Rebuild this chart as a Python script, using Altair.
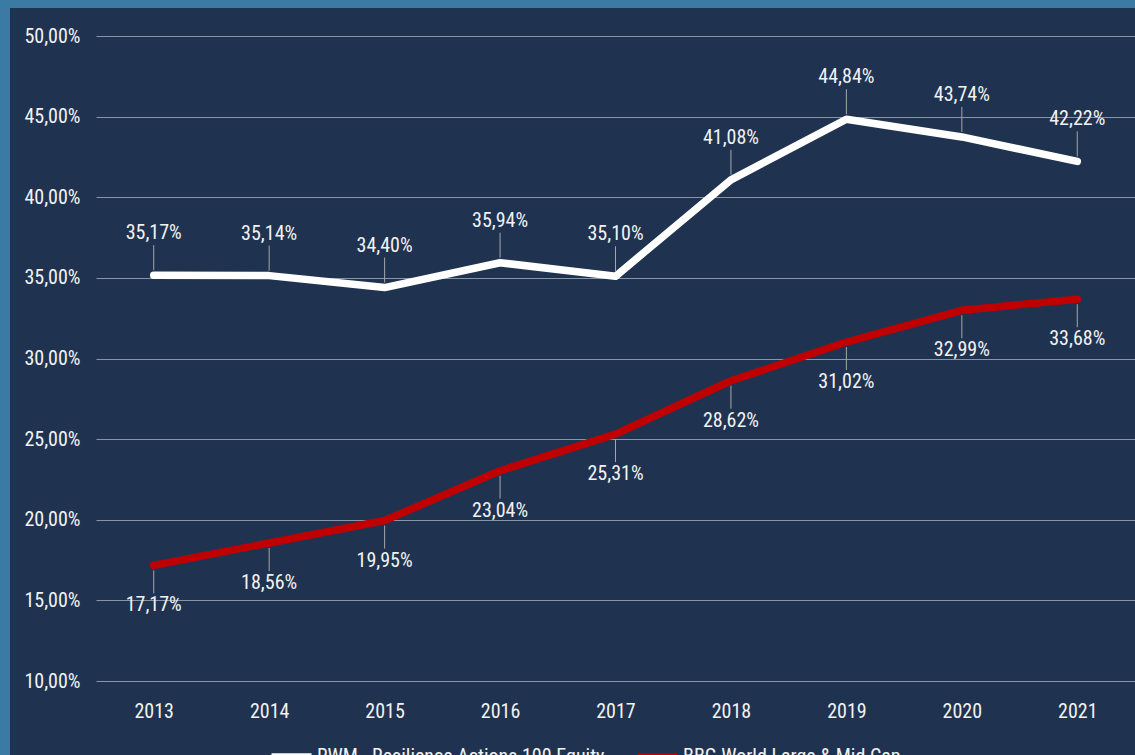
import altair as alt
import pandas as pd

years = ["2013", "2014", "2015", "2016", "2017", "2018", "2019", "2020", "2021"]
rwm = [35.17, 35.14, 34.40, 35.94, 35.10, 41.08, 44.84, 43.74, 42.22]
bbg = [17.17, 18.56, 19.95, 23.04, 25.31, 28.62, 31.02, 32.99, 33.68]
series_names = ["RWM - Resilience Actions 100 Equity", "BBG World Large & Mid Cap"]
y_ticks = [10, 15, 20, 25, 30, 35, 40, 45, 50]

rows = []
for y, v in zip(years, rwm):
    rows.append({"year": y, "value": v, "series": series_names[0]})
for y, v in zip(years, bbg):
    rows.append({"year": y, "value": v, "series": series_names[1]})
df = pd.DataFrame(rows)

FONT = "Liberation Sans Narrow, Roboto Condensed, Noto Sans, sans-serif"
BG = "#1f3350"
BORDER = "#3a7aa3"
FS = 20

x_enc = alt.X("year:N", scale=alt.Scale(type="point", padding=0.5), title=None,
              axis=alt.Axis(labelAngle=0, labelFontSize=FS, labelColor="#f2f2f2", labelFont=FONT,
                            ticks=False, domain=False, labelPadding=20))
y_scale = alt.Scale(domain=[10, 50], nice=False, zero=False)
y_enc = alt.Y("value:Q", scale=y_scale, title=None,
              axis=alt.Axis(values=y_ticks, labelExpr="replace(format(datum.value, '.2f'), '.', ',') + '%'",
                            labelFontSize=FS, labelColor="#f2f2f2", labelFont=FONT, ticks=False,
                            domain=False, labelPadding=16, grid=True, gridColor="#8a94a6",
                            gridWidth=1))

base = alt.Chart(df)

lines = base.mark_line(strokeWidth=7.5, strokeCap="round", strokeJoin="round").encode(
    x=x_enc, y=y_enc,
    color=alt.Color("series:N", scale=alt.Scale(domain=series_names, range=["#ffffff", "#c00000"]),
                    legend=alt.Legend(title=None, orient="none", legendX=172, legendY=697,
                                      direction="horizontal", symbolType="stroke", symbolSize=1600,
                                      symbolStrokeWidth=7, labelFontSize=FS, labelColor="#f2f2f2",
                                      labelFont=FONT, labelLimit=500, columnPadding=18,
                                      labelOffset=2)),
)

lbl_expr = "replace(format(datum.value, '.2f'), '.', ',') + '%'"

top = base.transform_filter(alt.datum.series == series_names[0]).transform_calculate(lbl=lbl_expr)
bot = base.transform_filter(alt.datum.series == series_names[1]).transform_calculate(lbl=lbl_expr)

top_leader = top.mark_rule(color="#a6a6a6", strokeWidth=1, yOffset=-5, y2Offset=-30).encode(
    x="year:N", y=alt.Y("value:Q", scale=y_scale), y2="value:Q")
bot_leader = bot.mark_rule(color="#a6a6a6", strokeWidth=1, yOffset=5, y2Offset=28).encode(
    x="year:N", y=alt.Y("value:Q", scale=y_scale), y2="value:Q")

top_text = top.mark_text(dy=-42, fontSize=FS, font=FONT, color="#f2f2f2").encode(
    x="year:N", y=alt.Y("value:Q", scale=y_scale), text="lbl:N")
bot_text = bot.mark_text(dy=40, fontSize=FS, font=FONT, color="#f2f2f2").encode(
    x="year:N", y=alt.Y("value:Q", scale=y_scale), text="lbl:N")

# decorative border strips
strip_df = pd.DataFrame({"k": [0]})
left_strip = alt.Chart(strip_df).mark_rect(color=BORDER).encode(
    x=alt.value(-96), x2=alt.value(-86), y=alt.value(-36), y2=alt.value(740))
top_strip = alt.Chart(strip_df).mark_rect(color=BORDER).encode(
    x=alt.value(-96), x2=alt.value(1060), y=alt.value(-36), y2=alt.value(-28))

chart = alt.layer(lines, top_leader, bot_leader, top_text, bot_text, left_strip, top_strip).properties(
    width=1039, height=645,
    autosize=alt.AutoSizeParams(type="none"),
    padding={"left": 96, "top": 36, "right": 0, "bottom": 74},
    background=BG,
).configure_view(stroke=None).configure_axis(gridColor="#8a94a6")

chart.save("out.html", embed_options={"renderer": "svg", "actions": False})
